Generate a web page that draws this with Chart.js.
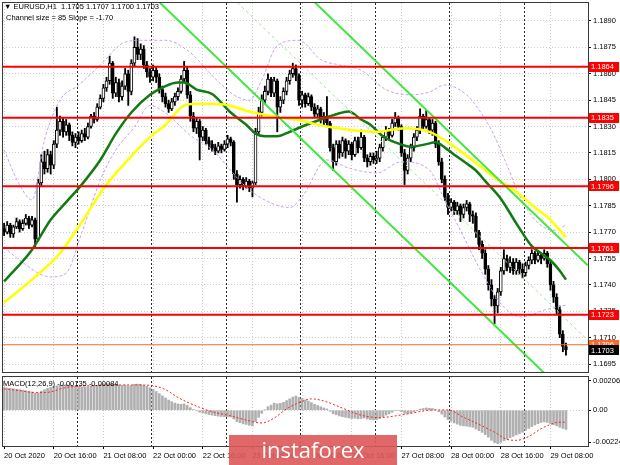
<!DOCTYPE html>
<html><head><meta charset="utf-8">
<script src="https://cdn.jsdelivr.net/npm/chart.js@4.4.0/dist/chart.umd.min.js"></script>
<style>
html,body{margin:0;padding:0;background:#fff;}
#wrap{position:relative;width:620px;height:465px;overflow:hidden;background:#fff;font-family:"Liberation Sans",Arial,sans-serif;}
#c1{position:absolute;left:0;top:0;}
#c2{position:absolute;left:0;top:374px;}
.t{position:absolute;font-size:7.5px;color:#000;white-space:pre;line-height:9px;}
#wm{position:absolute;left:229px;top:435px;width:168px;height:31px;background:rgba(222,88,88,0.9);color:#fff;font-family:"Open Sans",sans-serif;font-size:22px;line-height:29px;text-align:center;}
</style></head><body>
<div id="wrap">
<canvas id="c1" width="620" height="374"></canvas>
<canvas id="c2" width="620" height="91"></canvas>
<div class="t" style="left:4px;top:2px">▼ EURUSD,H1  1.1705 1.1707 1.1700 1.1703</div>
<div class="t" style="left:6px;top:13px">Channel size = 85 Slope = -1.70</div>
<div class="t" style="left:3px;top:379px">MACD(12,26,9) -0.00135 -0.00084</div>
<div id="wm">instaforex</div>
</div>
<script>
// ---------- data ----------
const tickBars = [0,16,32,48,64,80,96,112,128,144,160,176];
const tickLabels = ['20 Oct 2020','20 Oct 16:00','21 Oct 08:00','22 Oct 00:00','22 Oct 16:00','23 Oct 08:00','26 Oct 00:00','26 Oct 16:00','27 Oct 08:00','28 Oct 00:00','28 Oct 16:00','29 Oct 08:00'];
const daySeparators = [24,48,72,96,120,144,168];
const priceTicks = [1.1695,1.1710,1.1725,1.1740,1.1755,1.1770,1.1785,1.1800,1.1815,1.1830,1.1845,1.1860,1.1875,1.1890];
const levels = [1.1864,1.1835,1.1796,1.1761,1.1723];
const askLevel = 1.1706;
const lastClose = 1.1703;
const macdTicks = [0.00206,0,-0.00224];

const opens = [1.1772,1.1770,1.1774,1.1769,1.1773,1.1776,1.1772,1.1775,1.1778,1.1774,1.1777,1.1766,
1.1798,1.1810,1.1806,1.1814,1.1808,1.1820,1.1828,1.1833,1.1827,1.1831,1.1825,1.1821,
1.1824,1.1822,1.1826,1.1824,1.1830,1.1836,1.1834,1.1841,1.1846,1.1852,1.1856,1.1866,
1.1849,1.1855,1.1847,1.1853,1.1860,1.1850,1.1866,1.1875,1.1871,1.1874,1.1865,1.1861,
1.1858,1.1862,1.1858,1.1851,1.1847,1.1843,1.1840,1.1844,1.1847,1.1850,1.1857,1.1862,
1.1848,1.1836,1.1829,1.1833,1.1824,1.1828,1.1822,1.1820,1.1818,1.1816,1.1819,1.1817,
1.1820,1.1823,1.1821,1.1803,1.1797,1.1800,1.1796,1.1799,1.1795,1.1798,1.1827,1.1838,
1.1845,1.1850,1.1857,1.1849,1.1856,1.1841,1.1845,1.1850,1.1856,1.1860,1.1863,1.1859,
1.1845,1.1848,1.1843,1.1847,1.1841,1.1837,1.1840,1.1834,1.1836,1.1832,1.1818,1.1810,
1.1820,1.1815,1.1822,1.1816,1.1820,1.1814,1.1822,1.1818,1.1824,1.1812,1.1810,1.1813,
1.1811,1.1812,1.1818,1.1824,1.1828,1.1825,1.1832,1.1835,1.1830,1.1815,1.1805,1.1812,
1.1818,1.1824,1.1828,1.1836,1.1830,1.1834,1.1828,1.1832,1.1820,1.1810,1.1800,1.1790,
1.1784,1.1787,1.1782,1.1785,1.1780,1.1784,1.1786,1.1780,1.1779,1.1770,1.1763,1.1758,
1.1749,1.1740,1.1732,1.1728,1.1736,1.1748,1.1755,1.1750,1.1753,1.1748,1.1753,1.1749,
1.1747,1.1751,1.1754,1.1758,1.1754,1.1757,1.1755,1.1758,1.1752,1.1740,1.1733,1.1726,1.1712,1.1705];
const highs = [1.1775,1.1776,1.1775,1.1774,1.1778,1.1777,1.1777,1.1780,1.1779,1.1779,1.1778,1.1800,
1.1814,1.1816,1.1817,1.1816,1.1822,1.1841,1.1836,1.1835,1.1834,1.1832,1.1827,1.1826,
1.1827,1.1828,1.1829,1.1832,1.1837,1.1838,1.1843,1.1848,1.1854,1.1858,1.1870,1.1867,
1.1858,1.1857,1.1856,1.1863,1.1862,1.1868,1.1881,1.1880,1.1877,1.1876,1.1867,1.1863,
1.1865,1.1864,1.1860,1.1853,1.1849,1.1845,1.1846,1.1849,1.1852,1.1859,1.1867,1.1864,
1.1850,1.1838,1.1835,1.1834,1.1830,1.1829,1.1824,1.1822,1.1820,1.1821,1.1820,1.1822,
1.1825,1.1824,1.1822,1.1805,1.1802,1.1801,1.1801,1.1800,1.1799,1.1829,1.1841,1.1848,
1.1853,1.1860,1.1858,1.1858,1.1857,1.1847,1.1852,1.1858,1.1862,1.1866,1.1865,1.1860,
1.1850,1.1849,1.1849,1.1848,1.1843,1.1842,1.1841,1.1838,1.1847,1.1833,1.1820,1.1822,
1.1822,1.1824,1.1823,1.1822,1.1821,1.1824,1.1824,1.1828,1.1825,1.1814,1.1815,1.1815,
1.1816,1.1820,1.1825,1.1830,1.1829,1.1834,1.1838,1.1836,1.1831,1.1817,1.1814,1.1820,
1.1826,1.1830,1.1840,1.1837,1.1839,1.1835,1.1834,1.1833,1.1822,1.1812,1.1802,1.1792,
1.1789,1.1788,1.1787,1.1786,1.1786,1.1788,1.1787,1.1782,1.1781,1.1771,1.1765,1.1760,
1.1751,1.1743,1.1734,1.1738,1.1750,1.1760,1.1757,1.1756,1.1755,1.1755,1.1754,1.1752,
1.1753,1.1756,1.1760,1.1759,1.1759,1.1758,1.1760,1.1759,1.1754,1.1742,1.1735,1.1728,1.1714,1.1707];
const lows = [1.1768,1.1769,1.1767,1.1767,1.1772,1.1770,1.1771,1.1774,1.1772,1.1773,1.1761,1.1765,
1.1796,1.1803,1.1804,1.1803,1.1806,1.1818,1.1825,1.1824,1.1825,1.1822,1.1819,1.1818,
1.1820,1.1821,1.1822,1.1823,1.1829,1.1832,1.1833,1.1840,1.1844,1.1850,1.1854,1.1846,
1.1847,1.1844,1.1845,1.1851,1.1842,1.1848,1.1864,1.1868,1.1868,1.1863,1.1858,1.1855,
1.1856,1.1855,1.1849,1.1844,1.1841,1.1838,1.1839,1.1842,1.1845,1.1849,1.1855,1.1846,
1.1833,1.1827,1.1826,1.1811,1.1822,1.1820,1.1817,1.1816,1.1814,1.1815,1.1815,1.1816,
1.1818,1.1819,1.1800,1.1787,1.1795,1.1794,1.1795,1.1793,1.1790,1.1797,1.1825,1.1836,
1.1843,1.1848,1.1847,1.1847,1.1827,1.1838,1.1843,1.1848,1.1854,1.1858,1.1856,1.1842,
1.1841,1.1841,1.1842,1.1839,1.1835,1.1835,1.1832,1.1831,1.1830,1.1816,1.1805,1.1808,
1.1812,1.1813,1.1812,1.1814,1.1811,1.1813,1.1815,1.1817,1.1810,1.1807,1.1808,1.1809,
1.1809,1.1810,1.1816,1.1822,1.1823,1.1824,1.1830,1.1828,1.1813,1.1797,1.1803,1.1810,
1.1816,1.1822,1.1826,1.1828,1.1829,1.1826,1.1825,1.1818,1.1808,1.1798,1.1788,1.1780,
1.1782,1.1780,1.1780,1.1776,1.1778,1.1782,1.1776,1.1775,1.1767,1.1760,1.1755,1.1746,
1.1737,1.1728,1.1718,1.1724,1.1734,1.1746,1.1748,1.1747,1.1746,1.1746,1.1746,1.1744,
1.1745,1.1749,1.1752,1.1752,1.1753,1.1752,1.1754,1.1750,1.1737,1.1730,1.1723,1.1710,1.1702,1.1700];
const closes = [1.1770,1.1774,1.1769,1.1773,1.1776,1.1772,1.1775,1.1778,1.1774,1.1777,1.1766,1.1798,
1.1810,1.1806,1.1814,1.1808,1.1820,1.1828,1.1833,1.1827,1.1831,1.1825,1.1821,1.1824,
1.1822,1.1826,1.1824,1.1830,1.1836,1.1834,1.1841,1.1846,1.1852,1.1856,1.1866,1.1849,
1.1855,1.1847,1.1853,1.1860,1.1850,1.1866,1.1875,1.1871,1.1874,1.1865,1.1861,1.1858,
1.1862,1.1858,1.1851,1.1847,1.1843,1.1840,1.1844,1.1847,1.1850,1.1857,1.1862,1.1848,
1.1836,1.1829,1.1833,1.1824,1.1828,1.1822,1.1820,1.1818,1.1816,1.1819,1.1817,1.1820,
1.1823,1.1821,1.1803,1.1797,1.1800,1.1796,1.1799,1.1795,1.1798,1.1827,1.1838,1.1845,
1.1850,1.1857,1.1849,1.1856,1.1841,1.1845,1.1850,1.1856,1.1860,1.1863,1.1859,1.1845,
1.1848,1.1843,1.1847,1.1841,1.1837,1.1840,1.1834,1.1836,1.1832,1.1818,1.1810,1.1820,
1.1815,1.1822,1.1816,1.1820,1.1814,1.1822,1.1818,1.1824,1.1812,1.1810,1.1813,1.1811,
1.1812,1.1818,1.1824,1.1828,1.1825,1.1832,1.1835,1.1830,1.1815,1.1805,1.1812,1.1818,
1.1824,1.1828,1.1836,1.1830,1.1834,1.1828,1.1832,1.1820,1.1810,1.1800,1.1790,1.1784,
1.1787,1.1782,1.1785,1.1780,1.1784,1.1786,1.1780,1.1779,1.1770,1.1763,1.1758,1.1749,
1.1740,1.1732,1.1728,1.1736,1.1748,1.1755,1.1750,1.1753,1.1748,1.1753,1.1749,1.1747,
1.1751,1.1754,1.1758,1.1754,1.1757,1.1755,1.1758,1.1752,1.1740,1.1733,1.1726,1.1712,1.1705,1.1703];

// moving averages: [bar, value]
const greenMA = [[0,1.1742],[9,1.1760],[15,1.1777],[20,1.1787],[25,1.1797],[31,1.1811],[36,1.1826],[41,1.1838],[47,1.1848],[52,1.1853],[56,1.1855],[58,1.1855],[62,1.1851],[67,1.18485],[73,1.1838],[78,1.1831],[81,1.1826],[84,1.18245],[88,1.18245],[92,1.1827],[96,1.1830],[102,1.1834],[107,1.1837],[111,1.18385],[115,1.1834],[118,1.1831],[122,1.18245],[126,1.1821],[131,1.18185],[136,1.1820],[139,1.1821],[142,1.1818],[145,1.1814],[149,1.1809],[152,1.1805],[155,1.1799],[160,1.1789],[165,1.1775],[170,1.1762],[173,1.1758],[176,1.1754],[179,1.1748],[181,1.1743]];
const yellowMA = [[0,1.1730],[9,1.1743],[18,1.1758],[24,1.1773],[33,1.1797],[42,1.1815],[47,1.1824],[52,1.1831],[58,1.1842],[62,1.1843],[71,1.18425],[78,1.1839],[86,1.1836],[94,1.1834],[104,1.1830],[120,1.1827],[129,1.1829],[137,1.1827],[143,1.1821],[153,1.1808],[158,1.1801],[165,1.1793],[171,1.1784],[176,1.1777],[181,1.1767]];
const bandUpper = [[0,1.18167],[5,1.17968],[9,1.17883],[13,1.18223],[18,1.1845],[24,1.18535],[31,1.1865],[39,1.1878],[45,1.1879],[52,1.1879],[60,1.1872],[67,1.1859],[74,1.1848],[79,1.1845],[83,1.18565],[88,1.1876],[95,1.1879],[102,1.1868],[108,1.1865],[115,1.1862],[123,1.1851],[131,1.1848],[137,1.18496],[142,1.18536],[149,1.1848],[153,1.18394],[157,1.1828],[162,1.1808],[166,1.1791],[171,1.1777],[177,1.1771],[181,1.1774]];
const bandLower = [[0,1.17615],[5,1.1754],[15,1.17445],[20,1.17467],[25,1.17695],[31,1.17996],[36,1.18167],[42,1.18297],[47,1.1842],[52,1.18377],[60,1.1825],[67,1.18167],[78,1.17956],[86,1.17865],[92,1.1784],[96,1.1790],[104,1.1811],[111,1.18064],[120,1.18036],[128,1.1810],[137,1.18053],[142,1.1788],[147,1.1771],[153,1.1750],[161,1.17274],[167,1.17217],[174,1.17257],[181,1.17285]];
// regression channel (size 85, slope -1.70 per bar)
const channelMid = [[0,1.20282],[188,1.17086]];
const channelUpper = [[0,1.20707],[188,1.17511]];
const channelLower = [[0,1.19857],[188,1.16661]];

const macdMain = [0.00160,0.00157,0.00154,0.00151,0.00148,0.00145,0.00141,0.00137,0.00133,0.00129,0.00120,0.00122,
0.00135,0.00145,0.00155,0.00160,0.00166,0.00172,0.00176,0.00178,0.00180,0.00177,0.00172,0.00169,
0.00166,0.00164,0.00163,0.00165,0.00169,0.00172,0.00176,0.00180,0.00184,0.00186,0.00190,0.00183,
0.00180,0.00176,0.00175,0.00177,0.00171,0.00175,0.00182,0.00184,0.00182,0.00176,0.00168,0.00158,
0.00146,0.00132,0.00117,0.00101,0.00086,0.00072,0.00060,0.00050,0.00044,0.00042,0.00044,0.00034,
0.00018,0.00005,-0.00004,-0.00014,-0.00018,-0.00024,-0.00030,-0.00034,-0.00038,-0.00042,-0.00044,-0.00046,
-0.00046,-0.00048,-0.00062,-0.00080,-0.00088,-0.00096,-0.00100,-0.00106,-0.00110,-0.00080,-0.00050,-0.00022,
0.00002,0.00025,0.00036,0.00050,0.00045,0.00048,0.00056,0.00068,0.00080,0.00092,0.00100,0.00090,
0.00082,0.00072,0.00065,0.00054,0.00042,0.00033,0.00024,0.00016,0.00009,-0.00008,-0.00025,-0.00032,
-0.00040,-0.00045,-0.00050,-0.00054,-0.00058,-0.00056,-0.00060,-0.00058,-0.00055,-0.00062,-0.00066,-0.00068,
-0.00066,-0.00058,-0.00046,-0.00034,-0.00026,-0.00014,-0.00004,0.00000,-0.00010,-0.00022,-0.00024,-0.00020,
-0.00012,-0.00002,0.00008,0.00012,0.00016,0.00014,0.00012,0.00004,-0.00010,-0.00028,-0.00048,-0.00066,
-0.00078,-0.00090,-0.00098,-0.00106,-0.00110,-0.00112,-0.00116,-0.00120,-0.00132,-0.00144,-0.00156,-0.00172,
-0.00190,-0.00212,-0.00228,-0.00235,-0.00226,-0.00214,-0.00204,-0.00194,-0.00184,-0.00174,-0.00165,-0.00155,
-0.00142,-0.00128,-0.00116,-0.00104,-0.00095,-0.00086,-0.00082,-0.00086,-0.00094,-0.00102,-0.00110,-0.00120,-0.00128,-0.00135];
const macdSignal = [[0,0.00150],[5,0.00138],[10,0.00124],[14,0.00126],[20,0.00160],[30,0.00174],[41,0.00178],[47,0.00175],[52,0.00145],[56,0.00090],[63,0.00020],[67,-0.00010],[73,-0.00040],[79,-0.00075],[83,-0.00090],[87,-0.00055],[91,0.00010],[96,0.00062],[99,0.00080],[103,0.00065],[109,0.00015],[115,-0.00035],[121,-0.00052],[126,-0.00040],[132,-0.00018],[137,0.00000],[143,0.00002],[148,-0.00050],[153,-0.00100],[158,-0.00155],[162,-0.00205],[165,-0.00212],[169,-0.00185],[173,-0.00130],[176,-0.00100],[178,-0.00086],[181,-0.00084]];

// ---------- chart ----------
const FONT = "'Liberation Sans', Arial, sans-serif";
const FS = 7.5;
Chart.defaults.font.family = FONT;
Chart.defaults.font.size = FS;
Chart.defaults.color = '#000';
const X_MIN = -0.35, X_MAX = 188.1;
const pairs = a => a.map(([b,v]) => ({x:b, y:v}));

function xGridAxis(showLabels){
  return {type:'linear', min:X_MIN, max:X_MAX, position:'bottom', offset:false,
    afterBuildTicks: s => { s.ticks = tickBars.map(v => ({value:v})); },
    ticks:{display:showLabels, autoSkip:false, maxRotation:0, minRotation:0, align:'start', padding:2,
      callback:(v,i) => tickLabels[i]},
    grid:{color:'#cdcdcd', offset:false, drawTicks:showLabels, tickLength:3, tickColor:'#000'},
    border:{display:false, dash:[1,2]},
    afterFit: s => { s.height = showLabels ? 19 : 0; s.paddingLeft = 0; s.paddingRight = 0; }};
}
function xSepAxis(){
  return {type:'linear', min:X_MIN, max:X_MAX, position:'bottom', offset:false,
    afterBuildTicks: s => { s.ticks = daySeparators.map(v => ({value:v - 0.5})); },
    ticks:{display:false}, grid:{color:'#2a2a2a', offset:false, drawTicks:false},
    border:{display:false, dash:[2,2]},
    afterFit: s => { s.height = 0; s.paddingLeft = 0; s.paddingRight = 0; }};
}
const frame = {id:'frame', afterDraw(c){ const a=c.chartArea, x=c.ctx; x.save(); x.strokeStyle='#3a3a3a'; x.lineWidth=1;
  x.strokeRect(a.left-0.5, a.top-0.5, a.right-a.left+1, a.bottom-a.top+1); x.restore(); }};
const tags = {id:'tags', afterDraw(c){ const ys=c.scales.y, ctx=c.ctx, a=c.chartArea;
  ctx.save(); ctx.font = FS + 'px ' + FONT; ctx.textBaseline='middle'; ctx.textAlign='left';
  const tag = (v,bg) => { const py = ys.getPixelForValue(v); ctx.fillStyle=bg; ctx.fillRect(a.right+1, Math.round(py)-5, 30, 10);
    ctx.fillStyle='#fff'; ctx.fillText(v.toFixed(4), a.right+3, py+0.5); };
  levels.forEach(v => tag(v,'#ff0000')); tag(askLevel,'#ff6a2a'); tag(lastClose,'#000'); ctx.restore(); }};

const idx = closes.map((_,i) => i);
const lineDs = (data, color, width, extra) => Object.assign({type:'line', data, borderColor:color, borderWidth:width,
  pointRadius:0, fill:false, cubicInterpolationMode:'monotone', clip:0}, extra||{});
const hLine = v => [{x:X_MIN, y:v},{x:X_MAX, y:v}];

new Chart(document.getElementById('c1'), {
  type:'bar',
  data:{datasets:[
    ...levels.map(v => lineDs(hLine(v), '#ff0000', 2, {order:0, tension:0})),
    lineDs(hLine(askLevel), '#ff6a2a', 1, {order:0, tension:0}),
    lineDs(pairs(channelUpper), '#3fe83f', 2, {order:1, tension:0}),
    lineDs(pairs(channelLower), '#3fe83f', 2, {order:1, tension:0}),
    lineDs(pairs(channelMid), '#9be89b', 1, {order:1, tension:0, borderDash:[3,3]}),
    lineDs(pairs(yellowMA), '#ffff00', 2.5, {order:2}),
    lineDs(pairs(greenMA), '#127a12', 2.5, {order:2}),
    lineDs(pairs(bandUpper), '#c9a2ea', 1, {order:3, borderDash:[3,2]}),
    lineDs(pairs(bandLower), '#c9a2ea', 1, {order:3, borderDash:[3,2]}),
    {type:'bar', order:4, grouped:false, barThickness:3, minBarLength:1, borderWidth:1, borderSkipped:false,
      borderColor:'#000', backgroundColor: idx.map(i => closes[i] >= opens[i] ? '#ffffff' : '#000000'),
      data: idx.map(i => ({x:i, y:[opens[i], closes[i]]}))},
    {type:'bar', order:5, grouped:false, barThickness:1.2, backgroundColor:'#000',
      data: idx.map(i => ({x:i, y:[lows[i], highs[i]]}))}
  ]},
  options:{responsive:false, devicePixelRatio:1, animation:false, events:[],
    layout:{padding:{left:3, top:3, right:0, bottom:2}},
    plugins:{legend:{display:false}, tooltip:{enabled:false}},
    scales:{
      x: xGridAxis(false),
      xs: xSepAxis(),
      y:{type:'linear', position:'right', min:1.16905, max:1.19002, beginAtZero:false,
        afterBuildTicks: s => { s.ticks = priceTicks.map(v => ({value:v})); },
        ticks:{padding:2, callback:v => v.toFixed(4)},
        grid:{color:'#cdcdcd', tickLength:3, tickColor:'#000'},
        border:{display:false, dash:[1,2]},
        afterFit: s => { s.width = 32; s.paddingTop = 0; s.paddingBottom = 0; }}
    }},
  plugins:[frame, tags]
});

new Chart(document.getElementById('c2'), {
  type:'bar',
  data:{datasets:[
    lineDs(pairs(macdSignal), '#ff2020', 1, {order:0, borderDash:[2,2]}),
    {type:'bar', order:1, grouped:false, barThickness:2, backgroundColor:'#b0b0b0',
      data: idx.map(i => ({x:i, y:macdMain[i]}))}
  ]},
  options:{responsive:false, devicePixelRatio:1, animation:false, events:[],
    layout:{padding:{left:3, top:3, right:0, bottom:0}},
    plugins:{legend:{display:false}, tooltip:{enabled:false}},
    scales:{
      x: xGridAxis(true),
      xs: xSepAxis(),
      y:{type:'linear', position:'right', min:-0.00252, max:0.00234, beginAtZero:false,
        afterBuildTicks: s => { s.ticks = macdTicks.map(v => ({value:v})); },
        ticks:{padding:2, callback:v => v === 0 ? '0.00' : v.toFixed(5)},
        grid:{color: ctx => (ctx.tick && ctx.tick.value === 0) ? '#cdcdcd' : 'rgba(0,0,0,0)', tickLength:3, tickColor:'#000'},
        border:{display:false, dash:[1,2]},
        afterFit: s => { s.width = 32; s.paddingTop = 0; s.paddingBottom = 0; }}
    }},
  plugins:[frame]
});
</script>
</body></html>
